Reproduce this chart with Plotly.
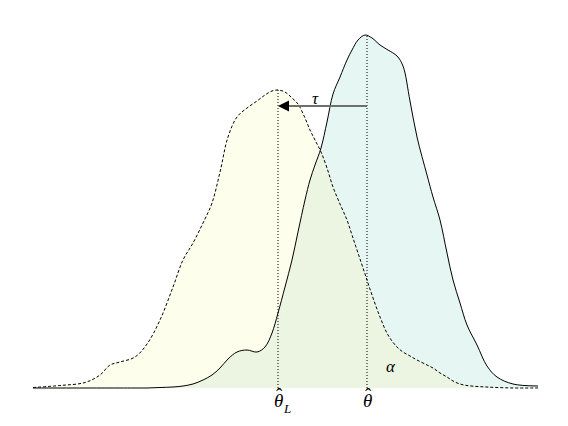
import plotly.graph_objects as go

# common sample grid (arbitrary units along the parameter axis)
x_grid = [33, 60, 85, 100, 110, 120, 135, 147, 160, 173, 183, 193, 203, 212, 220, 228,
          237, 247, 257, 265, 272, 278, 285, 292, 298, 305, 310, 315, 321, 327, 333, 340,
          347, 352, 358, 365, 372, 380, 388, 397, 403, 410, 417, 427, 433, 440, 447, 453,
          460, 467, 477, 487, 497, 513, 538]

# dashed density (shifted / null distribution)
dens_shift = [0.5, 2.5, 5.5, 13, 23, 26, 31, 44, 68, 101, 128, 145, 165, 185, 216, 251,
              271, 280, 287, 293, 297, 298, 296, 290, 284, 270, 258, 248, 236, 220, 201, 184,
              168, 153, 135, 114, 93, 71, 53, 41, 36, 32, 28, 23, 20, 15, 11, 7,
              4, 2.5, 1.5, 1, 0.5, 0, 0]

# solid density (sampling distribution of the estimate)
dens_est = [0, 0, 0, 0, 0, 0, 0, 0, 0.5, 1, 2, 4, 8, 13, 20, 29,
            36, 38, 36, 41, 55, 75, 101, 128, 156, 188, 208, 223, 240, 266, 294, 311,
            328, 338, 348, 353, 350, 343, 338, 332, 322, 287, 251, 213, 191, 168, 135, 108,
            85, 63, 43, 22, 11, 4, 2]

theta_L = 278
theta_hat = 367
peak_L = 298
peak_hat = 353

overlap = [min(a, b) for a, b in zip(dens_shift, dens_est)]

fig = go.Figure()

# fills
fig.add_trace(go.Scatter(x=x_grid, y=dens_shift, fill='tozeroy', fillcolor='#fefeec',
                         mode='none', line_shape='spline', hoverinfo='skip'))
fig.add_trace(go.Scatter(x=x_grid, y=dens_est, fill='tozeroy', fillcolor='#e6f6f3',
                         mode='none', line_shape='spline', hoverinfo='skip'))
fig.add_trace(go.Scatter(x=x_grid, y=overlap, fill='tozeroy', fillcolor='#ecf5e2',
                         mode='none', line_shape='spline', hoverinfo='skip'))

# outlines
fig.add_trace(go.Scatter(x=x_grid, y=dens_est, mode='lines', line_shape='spline',
                         line=dict(color='black', width=1)))
fig.add_trace(go.Scatter(x=x_grid, y=dens_shift, mode='lines', line_shape='spline',
                         line=dict(color='black', width=1, dash='3px,2px')))

# vertical dotted markers
for xv, top in [(theta_L, peak_L), (theta_hat, peak_hat)]:
    fig.add_shape(type='line', x0=xv, x1=xv, y0=0, y1=top,
                  line=dict(color='black', width=1, dash='1px,2px'))

# tau arrow: grey shaft, black head
arrow_y = 282
fig.add_shape(type='line', x0=theta_hat, x1=theta_L + 6, y0=arrow_y, y1=arrow_y,
              line=dict(color='#6e6e6e', width=2))
fig.add_annotation(x=theta_L, y=arrow_y, ax=theta_L + 10, ay=arrow_y,
                   axref='x', ayref='y', xref='x', yref='y', text='',
                   showarrow=True, arrowhead=2, arrowsize=1.1, arrowwidth=2,
                   arrowcolor='black')

serif = dict(family='Liberation Serif, Times New Roman, serif', size=17, color='black')
big = dict(serif, size=19)
fig.add_annotation(x=315, y=290, text='<i>τ</i>', showarrow=False, font=serif)
fig.add_annotation(x=391, y=22, text='<i>α</i>', showarrow=False, font=serif)

# estimate labels under the axis, hat drawn as its own glyph
fig.add_annotation(x=theta_L, y=-12, text='<i>θ</i>', showarrow=False, font=big)
fig.add_annotation(x=theta_L + 9, y=-20, text='<i>L</i>', showarrow=False,
                   font=dict(serif, size=13))
fig.add_annotation(x=theta_hat, y=-12, text='<i>θ</i>', showarrow=False, font=big)
for xv in (theta_L, theta_hat):
    fig.add_annotation(x=xv + 1, y=-6, text='ˆ', showarrow=False, font=big)

fig.update_layout(
    width=568, height=426,
    margin=dict(l=0, r=0, t=0, b=0),
    showlegend=False,
    plot_bgcolor='white', paper_bgcolor='white',
)
# page body adds an 8px offset, so ranges are shifted to compensate
fig.update_xaxes(range=[8, 576], visible=False)
fig.update_yaxes(range=[-46, 380], visible=False)

fig.write_html("out.html")
